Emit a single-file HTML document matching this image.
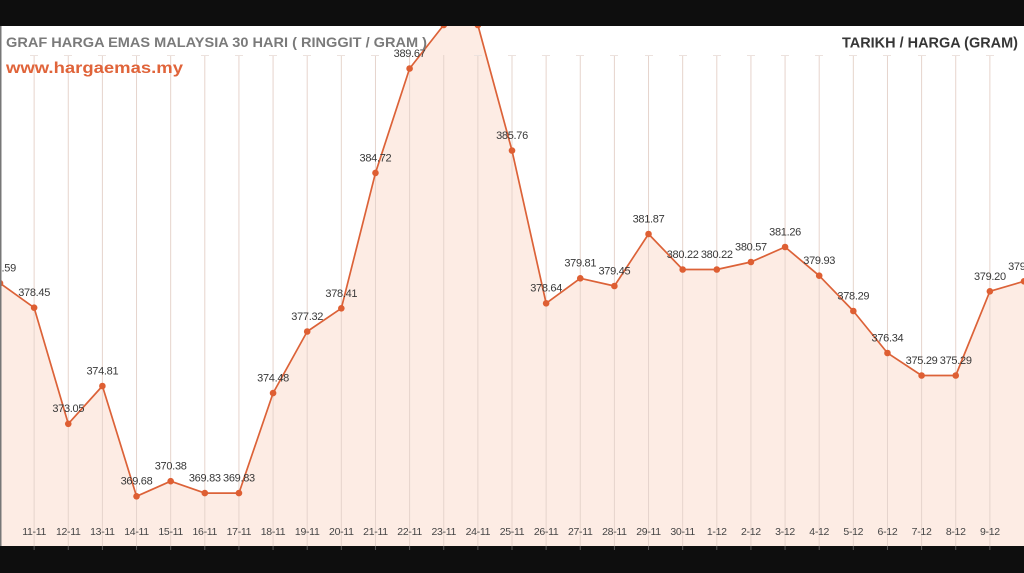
<!DOCTYPE html>
<html>
<head>
<meta charset="utf-8">
<style>
html,body{margin:0;padding:0;background:#0e0e0e;}
svg{display:block;}
</style>
</head>
<body>
<svg xmlns="http://www.w3.org/2000/svg" width="1024" height="573" viewBox="0 0 1024 573">
  <rect x="0" y="0" width="1024" height="573" fill="#ffffff"/>
  <!-- fill area -->
  <polygon fill="#fdece4" points="0,546 0,283.2 34.13,307.7 68.27,423.8 102.4,386 136.53,496.3 170.67,481.2 204.8,493.1 238.93,493.1 273.07,393.1 307.2,331.5 341.33,308.3 375.47,172.9 409.6,68.5 443.73,25 477.87,25 512,150.6 546.13,303.3 580.27,278.3 614.4,286 648.53,234 682.67,269.5 716.8,269.5 750.93,262 785.07,247 819.2,275.7 853.33,311 887.47,353 921.6,375.5 955.73,375.5 989.87,291.3 1024,281.3 1024,546"/>
  <!-- grid lines -->
  <g stroke="#e6d4cc" stroke-width="1">
    <line x1="34.13" y1="55" x2="34.13" y2="546"/>
    <line x1="68.27" y1="55" x2="68.27" y2="546"/>
    <line x1="102.4" y1="55" x2="102.4" y2="546"/>
    <line x1="136.53" y1="55" x2="136.53" y2="546"/>
    <line x1="170.67" y1="55" x2="170.67" y2="546"/>
    <line x1="204.8" y1="55" x2="204.8" y2="546"/>
    <line x1="238.93" y1="55" x2="238.93" y2="546"/>
    <line x1="273.07" y1="55" x2="273.07" y2="546"/>
    <line x1="307.2" y1="55" x2="307.2" y2="546"/>
    <line x1="341.33" y1="55" x2="341.33" y2="546"/>
    <line x1="375.47" y1="55" x2="375.47" y2="546"/>
    <line x1="409.6" y1="55" x2="409.6" y2="546"/>
    <line x1="443.73" y1="55" x2="443.73" y2="546"/>
    <line x1="477.87" y1="55" x2="477.87" y2="546"/>
    <line x1="512" y1="55" x2="512" y2="546"/>
    <line x1="546.13" y1="55" x2="546.13" y2="546"/>
    <line x1="580.27" y1="55" x2="580.27" y2="546"/>
    <line x1="614.4" y1="55" x2="614.4" y2="546"/>
    <line x1="648.53" y1="55" x2="648.53" y2="546"/>
    <line x1="682.67" y1="55" x2="682.67" y2="546"/>
    <line x1="716.8" y1="55" x2="716.8" y2="546"/>
    <line x1="750.93" y1="55" x2="750.93" y2="546"/>
    <line x1="785.07" y1="55" x2="785.07" y2="546"/>
    <line x1="819.2" y1="55" x2="819.2" y2="546"/>
    <line x1="853.33" y1="55" x2="853.33" y2="546"/>
    <line x1="887.47" y1="55" x2="887.47" y2="546"/>
    <line x1="921.6" y1="55" x2="921.6" y2="546"/>
    <line x1="955.73" y1="55" x2="955.73" y2="546"/>
    <line x1="989.87" y1="55" x2="989.87" y2="546"/>
  </g>
  <!-- top tick crossbars -->
  <g stroke="#ece2de" stroke-width="1">
    <line x1="30" y1="55.5" x2="38" y2="55.5"/><line x1="64" y1="55.5" x2="72" y2="55.5"/><line x1="98" y1="55.5" x2="106" y2="55.5"/><line x1="132" y1="55.5" x2="140" y2="55.5"/><line x1="167" y1="55.5" x2="175" y2="55.5"/><line x1="201" y1="55.5" x2="209" y2="55.5"/><line x1="235" y1="55.5" x2="243" y2="55.5"/><line x1="269" y1="55.5" x2="277" y2="55.5"/><line x1="303" y1="55.5" x2="311" y2="55.5"/><line x1="337" y1="55.5" x2="345" y2="55.5"/><line x1="371" y1="55.5" x2="379" y2="55.5"/><line x1="474" y1="55.5" x2="482" y2="55.5"/><line x1="508" y1="55.5" x2="516" y2="55.5"/><line x1="542" y1="55.5" x2="550" y2="55.5"/><line x1="576" y1="55.5" x2="584" y2="55.5"/><line x1="610" y1="55.5" x2="618" y2="55.5"/><line x1="645" y1="55.5" x2="653" y2="55.5"/><line x1="679" y1="55.5" x2="687" y2="55.5"/><line x1="713" y1="55.5" x2="721" y2="55.5"/><line x1="747" y1="55.5" x2="755" y2="55.5"/><line x1="781" y1="55.5" x2="789" y2="55.5"/><line x1="815" y1="55.5" x2="823" y2="55.5"/><line x1="849" y1="55.5" x2="857" y2="55.5"/><line x1="883" y1="55.5" x2="891" y2="55.5"/><line x1="918" y1="55.5" x2="926" y2="55.5"/><line x1="952" y1="55.5" x2="960" y2="55.5"/><line x1="986" y1="55.5" x2="994" y2="55.5"/>
  </g>
  <!-- series line -->
  <polyline fill="none" stroke="#dc6238" stroke-width="1.7" stroke-linejoin="round" points="0,283.2 34.13,307.7 68.27,423.8 102.4,386 136.53,496.3 170.67,481.2 204.8,493.1 238.93,493.1 273.07,393.1 307.2,331.5 341.33,308.3 375.47,172.9 409.6,68.5 443.73,25 477.87,25 512,150.6 546.13,303.3 580.27,278.3 614.4,286 648.53,234 682.67,269.5 716.8,269.5 750.93,262 785.07,247 819.2,275.7 853.33,311 887.47,353 921.6,375.5 955.73,375.5 989.87,291.3 1024,281.3"/>
  <g fill="#de5f33">
    <circle cx="0" cy="283.2" r="3.3"/><circle cx="34.13" cy="307.7" r="3.3"/><circle cx="68.27" cy="423.8" r="3.3"/><circle cx="102.4" cy="386" r="3.3"/><circle cx="136.53" cy="496.3" r="3.3"/><circle cx="170.67" cy="481.2" r="3.3"/><circle cx="204.8" cy="493.1" r="3.3"/><circle cx="238.93" cy="493.1" r="3.3"/><circle cx="273.07" cy="393.1" r="3.3"/><circle cx="307.2" cy="331.5" r="3.3"/><circle cx="341.33" cy="308.3" r="3.3"/><circle cx="375.47" cy="172.9" r="3.3"/><circle cx="409.6" cy="68.5" r="3.3"/><circle cx="443.73" cy="25" r="3.3"/><circle cx="477.87" cy="25" r="3.3"/><circle cx="512" cy="150.6" r="3.3"/><circle cx="546.13" cy="303.3" r="3.3"/><circle cx="580.27" cy="278.3" r="3.3"/><circle cx="614.4" cy="286" r="3.3"/><circle cx="648.53" cy="234" r="3.3"/><circle cx="682.67" cy="269.5" r="3.3"/><circle cx="716.8" cy="269.5" r="3.3"/><circle cx="750.93" cy="262" r="3.3"/><circle cx="785.07" cy="247" r="3.3"/><circle cx="819.2" cy="275.7" r="3.3"/><circle cx="853.33" cy="311" r="3.3"/><circle cx="887.47" cy="353" r="3.3"/><circle cx="921.6" cy="375.5" r="3.3"/><circle cx="955.73" cy="375.5" r="3.3"/><circle cx="989.87" cy="291.3" r="3.3"/><circle cx="1024" cy="281.3" r="3.3"/>
  </g>
  <!-- value labels -->
  <g font-family="Liberation Sans, Arial, sans-serif" font-size="11" letter-spacing="-0.3" fill="#383838" text-anchor="middle">
    <text x="0" y="271.5">379.59</text>
    <text x="34.13" y="296">378.45</text>
    <text x="68.27" y="412">373.05</text>
    <text x="102.4" y="374.5">374.81</text>
    <text x="136.53" y="484.5">369.68</text>
    <text x="170.67" y="469.5">370.38</text>
    <text x="204.8" y="481.5">369.83</text>
    <text x="238.93" y="481.5">369.83</text>
    <text x="273.07" y="381.5">374.48</text>
    <text x="307.2" y="320">377.32</text>
    <text x="341.33" y="297">378.41</text>
    <text x="375.47" y="161.5">384.72</text>
    <text x="409.6" y="57">389.67</text>
    <text x="512" y="139">385.76</text>
    <text x="546.13" y="291.5">378.64</text>
    <text x="580.27" y="266.5">379.81</text>
    <text x="614.4" y="274.5">379.45</text>
    <text x="648.53" y="222.5">381.87</text>
    <text x="682.67" y="258">380.22</text>
    <text x="716.8" y="258">380.22</text>
    <text x="750.93" y="250.5">380.57</text>
    <text x="785.07" y="235.5">381.26</text>
    <text x="819.2" y="264">379.93</text>
    <text x="853.33" y="299.5">378.29</text>
    <text x="887.47" y="341.5">376.34</text>
    <text x="921.6" y="364">375.29</text>
    <text x="955.73" y="364">375.29</text>
    <text x="989.87" y="280">379.20</text>
    <text x="1024" y="270">379.68</text>
  </g>
  <!-- x axis labels -->
  <g font-family="Liberation Sans, Arial, sans-serif" font-size="10.5" letter-spacing="-0.3" fill="#444" text-anchor="middle">
    <text x="34.13" y="535">11-11</text>
    <text x="68.27" y="535">12-11</text>
    <text x="102.4" y="535">13-11</text>
    <text x="136.53" y="535">14-11</text>
    <text x="170.67" y="535">15-11</text>
    <text x="204.8" y="535">16-11</text>
    <text x="238.93" y="535">17-11</text>
    <text x="273.07" y="535">18-11</text>
    <text x="307.2" y="535">19-11</text>
    <text x="341.33" y="535">20-11</text>
    <text x="375.47" y="535">21-11</text>
    <text x="409.6" y="535">22-11</text>
    <text x="443.73" y="535">23-11</text>
    <text x="477.87" y="535">24-11</text>
    <text x="512" y="535">25-11</text>
    <text x="546.13" y="535">26-11</text>
    <text x="580.27" y="535">27-11</text>
    <text x="614.4" y="535">28-11</text>
    <text x="648.53" y="535">29-11</text>
    <text x="682.67" y="535">30-11</text>
    <text x="716.8" y="535">1-12</text>
    <text x="750.93" y="535">2-12</text>
    <text x="785.07" y="535">3-12</text>
    <text x="819.2" y="535">4-12</text>
    <text x="853.33" y="535">5-12</text>
    <text x="887.47" y="535">6-12</text>
    <text x="921.6" y="535">7-12</text>
    <text x="955.73" y="535">8-12</text>
    <text x="989.87" y="535">9-12</text>
  </g>
  <!-- titles -->
  <text x="6" y="47" font-family="Liberation Sans, Arial, sans-serif" font-size="14" font-weight="bold" fill="#7a7a7a" textLength="421" lengthAdjust="spacingAndGlyphs">GRAF HARGA EMAS MALAYSIA 30 HARI ( RINGGIT / GRAM )</text>
  <text x="6" y="73" font-family="Liberation Sans, Arial, sans-serif" font-size="16" font-weight="bold" fill="#e0643a" textLength="177" lengthAdjust="spacingAndGlyphs">www.hargaemas.my</text>
  <text x="842" y="47.3" font-family="Liberation Sans, Arial, sans-serif" font-size="15" font-weight="bold" fill="#363636" textLength="176" lengthAdjust="spacingAndGlyphs">TARIKH / HARGA (GRAM)</text>
  <!-- left edge line -->
  <rect x="0" y="26" width="1.5" height="520" fill="#777"/>
  <!-- black bars -->
  <rect x="0" y="0" width="1024" height="26" fill="#0e0e0e"/>
  <rect x="0" y="546" width="1024" height="27" fill="#0e0e0e"/>
  <g stroke="#555" stroke-width="1">
    <line x1="34.13" y1="546" x2="34.13" y2="550"/><line x1="68.27" y1="546" x2="68.27" y2="550"/><line x1="102.4" y1="546" x2="102.4" y2="550"/><line x1="136.53" y1="546" x2="136.53" y2="550"/><line x1="170.67" y1="546" x2="170.67" y2="550"/><line x1="204.8" y1="546" x2="204.8" y2="550"/><line x1="238.93" y1="546" x2="238.93" y2="550"/><line x1="273.07" y1="546" x2="273.07" y2="550"/><line x1="307.2" y1="546" x2="307.2" y2="550"/><line x1="341.33" y1="546" x2="341.33" y2="550"/><line x1="375.47" y1="546" x2="375.47" y2="550"/><line x1="409.6" y1="546" x2="409.6" y2="550"/><line x1="443.73" y1="546" x2="443.73" y2="550"/><line x1="477.87" y1="546" x2="477.87" y2="550"/><line x1="512" y1="546" x2="512" y2="550"/><line x1="546.13" y1="546" x2="546.13" y2="550"/><line x1="580.27" y1="546" x2="580.27" y2="550"/><line x1="614.4" y1="546" x2="614.4" y2="550"/><line x1="648.53" y1="546" x2="648.53" y2="550"/><line x1="682.67" y1="546" x2="682.67" y2="550"/><line x1="716.8" y1="546" x2="716.8" y2="550"/><line x1="750.93" y1="546" x2="750.93" y2="550"/><line x1="785.07" y1="546" x2="785.07" y2="550"/><line x1="819.2" y1="546" x2="819.2" y2="550"/><line x1="853.33" y1="546" x2="853.33" y2="550"/><line x1="887.47" y1="546" x2="887.47" y2="550"/><line x1="921.6" y1="546" x2="921.6" y2="550"/><line x1="955.73" y1="546" x2="955.73" y2="550"/><line x1="989.87" y1="546" x2="989.87" y2="550"/>
  </g>
</svg>
</body>
</html>
